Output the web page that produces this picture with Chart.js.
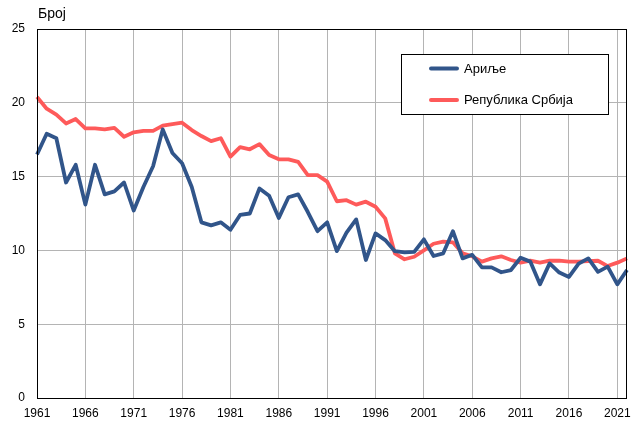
<!DOCTYPE html>
<html>
<head>
<meta charset="utf-8">
<script src="https://cdn.jsdelivr.net/npm/chart.js@4"></script>
<style>
html,body{margin:0;padding:0;background:#fff;}
#wrap{width:635px;height:421px;position:relative;}
</style>
</head>
<body>
<div id="wrap"><canvas id="c" width="635" height="421"></canvas></div>
<script>
const years = [];
for (let y = 1961; y <= 2022; y++) years.push(String(y));

const arilje = [16.5,17.9,17.6,14.6,15.8,13.1,15.8,13.8,14.0,14.6,12.7,14.3,15.7,18.2,16.6,15.9,14.3,11.9,11.7,11.9,11.4,12.4,12.5,14.2,13.7,12.2,13.6,13.8,12.6,11.3,11.9,9.95,11.2,12.1,9.35,11.15,10.7,9.95,9.87,9.9,10.75,9.62,9.8,11.3,9.46,9.7,8.85,8.85,8.52,8.67,9.5,9.24,7.7,9.12,8.5,8.2,9.1,9.46,8.55,8.9,7.7,8.67];
const srbija = [20.4,19.6,19.2,18.6,18.9,18.27,18.27,18.2,18.3,17.7,18.0,18.1,18.1,18.45,18.56,18.65,18.15,17.75,17.4,17.6,16.35,17.0,16.85,17.2,16.46,16.17,16.17,16.0,15.1,15.1,14.66,13.33,13.4,13.1,13.3,12.96,12.17,9.8,9.4,9.57,10.0,10.45,10.6,10.55,9.8,9.6,9.24,9.46,9.6,9.35,9.17,9.3,9.17,9.3,9.3,9.24,9.24,9.27,9.3,8.94,9.17,9.46];
const seriesNames = ["Ариље", "Република Србија"];
const seriesColors = ["#31558a", "#fe5a5a"];
const yTicks = [0,5,10,15,20,25];
const yLabel = "Број";

const FONT = "'Liberation Sans', Arial, sans-serif";
const GRID = "#b4b4b4";

const overlay = {
  id: 'overlay',
  afterDraw(chart) {
    const ctx = chart.ctx;
    const a = chart.chartArea;
    ctx.save();
    ctx.strokeStyle = '#000';
    ctx.lineWidth = 1;
    ctx.strokeRect(Math.round(a.left) + 0.5, Math.round(a.top) + 0.5, Math.round(a.right - a.left) - 1, Math.round(a.bottom - a.top));
    ctx.fillStyle = '#000';
    ctx.font = "14px " + FONT;
    ctx.textBaseline = 'alphabetic';
    ctx.textAlign = 'left';
    ctx.fillText(yLabel, 38, 18);
    const lx = 401.5, ly = 54.5, lw = 207, lh = 60;
    ctx.fillStyle = '#fff';
    ctx.fillRect(lx, ly, lw, lh);
    ctx.strokeStyle = '#000';
    ctx.strokeRect(lx, ly, lw, lh);
    chart.data.datasets.forEach((ds, i) => {
      const yy = 68.5 + i * 31.5;
      ctx.strokeStyle = ds.borderColor;
      ctx.lineWidth = 4;
      ctx.lineCap = 'round';
      ctx.beginPath();
      ctx.moveTo(431, yy);
      ctx.lineTo(457, yy);
      ctx.stroke();
      ctx.fillStyle = '#000';
      ctx.font = "13px " + FONT;
      ctx.textBaseline = 'middle';
      ctx.fillText(ds.label, 464, yy + 0.5);
    });
    ctx.restore();
  }
};

new Chart(document.getElementById('c'), {
  type: 'line',
  data: {
    labels: years,
    datasets: [
      { label: seriesNames[0], data: arilje, borderColor: seriesColors[0], backgroundColor: seriesColors[0], borderWidth: 3.8, pointRadius: 0, tension: 0, borderJoinStyle: 'round' },
      { label: seriesNames[1], data: srbija, borderColor: seriesColors[1], backgroundColor: seriesColors[1], borderWidth: 3.8, pointRadius: 0, tension: 0, borderJoinStyle: 'round' }
    ]
  },
  options: {
    responsive: false,
    animation: false,
    devicePixelRatio: 1,
    layout: { padding: { top: 29, right: 7, left: 0, bottom: 0 } },
    plugins: { legend: { display: false }, tooltip: { enabled: false } },
    scales: {
      x: {
        type: 'category',
        offset: false,
        border: { display: false },
        grid: {
          drawTicks: false,
          color: (c) => (c.index % 5 === 0 ? GRID : 'rgba(0,0,0,0)'),
          lineWidth: 1
        },
        ticks: {
          autoSkip: false,
          maxRotation: 0,
          minRotation: 0,
          padding: 8,
          color: '#000',
          font: { family: FONT, size: 12 },
          callback: function(v, i) { return i % 5 === 0 ? this.getLabelForValue(v) : ''; }
        },
        afterFit: (s) => { s.height = 23; }
      },
      y: {
        min: 0,
        max: 25,
        border: { display: false },
        grid: { drawTicks: false, color: GRID, lineWidth: 1 },
        afterBuildTicks: (s) => { s.ticks = yTicks.map(v => ({ value: v })); },
        ticks: {
          padding: 12,
          color: '#000',
          font: { family: FONT, size: 12 }
        },
        afterFit: (s) => { s.width = 37; }
      }
    }
  },
  plugins: [overlay]
});
</script>
</body>
</html>
